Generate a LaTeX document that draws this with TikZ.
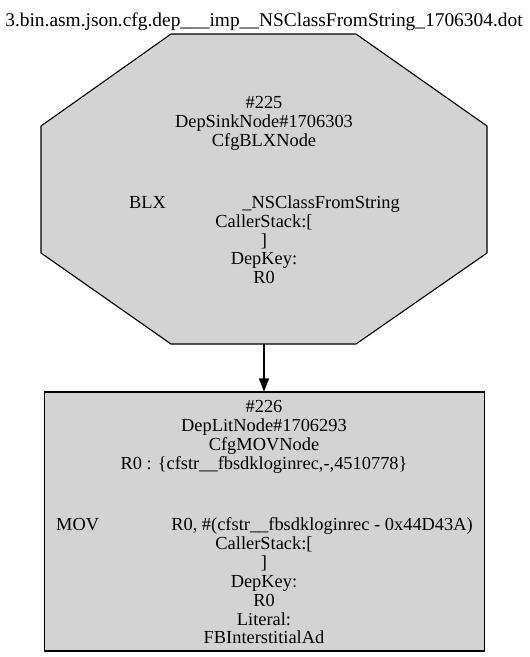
\documentclass[tikz,border=0pt]{standalone}
\usepackage{fontspec}
\setmainfont{Liberation Serif}
\usetikzlibrary{arrows.meta}
\definecolor{nodegray}{RGB}{211,211,211}
\tikzset{
  txt/.style={anchor=base, inner sep=0pt, font=\fontsize{18.4}{20}\selectfont},
  txtw/.style={txt, anchor=base west},
  txte/.style={txt, anchor=base east},
  shapeline/.style={draw=black, line width=1.1pt, fill=nodegray},
  edgeline/.style={draw=black, line width=1.1pt, -{Triangle[length=13pt,width=10pt]}},
}
\begin{document}
\begin{tikzpicture}[x=1pt,y=-1pt]
\useasboundingbox (0,0) rectangle (530,657);
\fill[white] (0,0) rectangle (530,657);
\node[txt, font=\fontsize{19.4}{21}\selectfont] (title) at (264,26) {3.bin.asm.json.cfg.dep\_\_\_imp\_\_NSClassFromString\_1706304.dot};
% octagon
\coordinate (o1) at (171,34);
\coordinate (o2) at (356,34);
\coordinate (o3) at (487,126);
\coordinate (o4) at (487,253);
\coordinate (o5) at (356,344);
\coordinate (o6) at (171,344);
\coordinate (o7) at (41,253);
\coordinate (o8) at (41,126);
\coordinate (ob) at (264,344);
\draw[shapeline, line join=miter] (o1) -- (o2) -- (o3) -- (o4) -- (o5) -- (o6) -- (o7) -- (o8) -- cycle;
\node[txt] (a1) at (264,108) {\#225};
\node[txt] (a2) at (264,127) {DepSinkNode\#1706303};
\node[txt] (a3) at (264,146) {CfgBLXNode};
\node[txtw] (a4) at (129,208) {BLX};
\node[txte] (a5) at (400,208) {\_NSClassFromString};
\node[txt] (a6) at (264,227) {CallerStack:[};
\node[txt] (a7) at (264,246) {]};
\node[txt] (a8) at (264,264) {DepKey:};
\node[txt] (a9) at (264,283) {R0};
% box
\node[shapeline, rectangle, minimum width=440pt, minimum height=259pt, inner sep=0pt] (box) at (264.5,521.5) {};
\node[txt] (b1) at (264,412) {\#226};
\node[txt] (b2) at (264,431) {DepLitNode\#1706293};
\node[txt] (b3) at (264,450) {CfgMOVNode};
\node[txt] (b4) at (264,469) {R0 : \{cfstr\_\_fbsdkloginrec,-,4510778\}};
\node[txtw] (b5) at (56,530) {MOV};
\node[txte] (b6) at (473,530) {R0, \#(cfstr\_\_fbsdkloginrec - 0x44D43A)};
\node[txt] (b7) at (264,549) {CallerStack:[};
\node[txt] (b8) at (264,568) {]};
\node[txt] (b9) at (264,587) {DepKey:};
\node[txt] (b10) at (264,606) {R0};
\node[txt] (b11) at (264,625) {Literal:};
\node[txt] (b12) at (264,643) {FBInterstitialAd};
% edge
\draw[edgeline] (ob) -- (ob |- box.north);
\end{tikzpicture}
\end{document}
